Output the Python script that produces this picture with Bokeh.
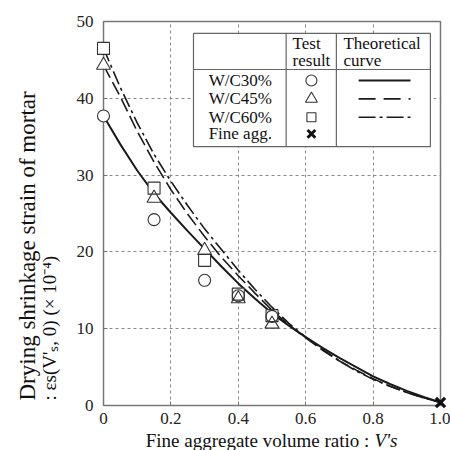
import math
from bokeh.plotting import figure
from bokeh.models import FixedTicker, Range1d
from bokeh.embed import file_html
from bokeh.resources import INLINE
from bokeh.core.properties import value

# ---------------- data ----------------
x_test = [0.0, 0.15, 0.30, 0.40, 0.50]
wc30_test = [37.7, 24.2, 16.3, 14.3, 11.6]
wc45_test = [44.3, 27.0, 20.2, 13.9, 10.6]
wc60_test = [46.5, 28.3, 18.9, 14.5, 11.7]
fine_x = [1.0]
fine_y = [0.4]

x_curve = [0.0, 0.05, 0.10, 0.15, 0.20, 0.25, 0.30, 0.35, 0.40, 0.45, 0.50,
           0.55, 0.60, 0.65, 0.70, 0.75, 0.80, 0.85, 0.90, 0.95, 1.0]
wc30_curve = [37.7, 34.0, 30.6, 27.6, 25.1, 22.7, 20.4, 18.1, 15.9, 13.9, 12.0,
              10.4, 8.9, 7.5, 6.2, 5.0, 3.8, 2.8, 1.9, 1.1, 0.4]
wc45_curve = [44.3, 40.2, 35.7, 31.7, 28.1, 24.9, 22.0, 19.3, 16.9, 14.6, 12.4,
              10.5, 8.8, 7.2, 5.8, 4.6, 3.5, 2.5, 1.7, 1.0, 0.4]
wc60_curve = [46.5, 41.4, 36.8, 32.7, 29.2, 26.0, 23.0, 20.3, 17.6, 15.1, 12.8,
              10.7, 8.9, 7.3, 5.8, 4.5, 3.4, 2.5, 1.7, 1.0, 0.4]

x_ticks = [0, 0.2, 0.4, 0.6, 0.8, 1.0]
x_tick_labels = ["0", "0.2", "0.4", "0.6", "0.8", "1.0"]
y_ticks = [0, 10, 20, 30, 40, 50]

series_labels = ["W/C30%", "W/C45%", "W/C60%", "Fine agg."]
header_test = ["Test", "result"]
header_theory = ["Theoretical", "curve"]

x_title = "Fine aggregate volume ratio :"
x_title_italic = "V's"
y_title_1 = "Drying shrinkage strain of mortar"
y_title_2 = ": \u03b5s(V'\u209b, 0) (\u00d7 10\u207b\u2074)"

FONT = "Liberation Serif"
INK = "#1a1a1a"
FRAME = "#777777"

p = figure(width=450, height=450, x_range=Range1d(0, 1), y_range=Range1d(0, 50),
           output_backend="svg", toolbar_location=None,
           min_border_left=103, min_border_right=10, min_border_top=21, min_border_bottom=45)

p.outline_line_color = FRAME
p.outline_line_width = 1.5
p.background_fill_color = "white"
p.border_fill_color = "white"

p.xaxis.ticker = FixedTicker(ticks=x_ticks)
p.yaxis.ticker = FixedTicker(ticks=y_ticks)
p.xaxis.major_label_overrides = {t: l for t, l in zip(x_ticks, x_tick_labels)}
for ax in (p.xaxis[0], p.yaxis[0]):
    ax.axis_line_color = None
    ax.major_tick_in = 4
    ax.major_tick_out = 0
    ax.major_tick_line_color = FRAME
    ax.minor_tick_line_color = None
    ax.major_label_text_font = FONT
    ax.major_label_text_font_size = "17px"
    ax.major_label_text_color = "#222222"
p.xaxis.major_label_standoff = 7
p.yaxis.major_label_standoff = 10

p.xgrid.ticker = FixedTicker(ticks=x_ticks)
p.ygrid.ticker = FixedTicker(ticks=y_ticks)
for g in (p.xgrid[0], p.ygrid[0]):
    g.grid_line_color = "#8a8a8a"
    g.grid_line_dash = "3 3"
    g.grid_line_width = 1

# ---------------- curves ----------------
p.line(x_curve, wc30_curve, line_color=INK, line_width=2)
p.line(x_curve, wc45_curve, line_color=INK, line_width=1.6, line_dash="14 5")
p.line(x_curve, wc60_curve, line_color=INK, line_width=1.6, line_dash="14 4 3 4")

# ---------------- test points ----------------
sets = [("square", wc60_test, 12), ("triangle", wc45_test, 14), ("circle", wc30_test, 12)]
for mk, ys, sz in sets:
    p.scatter(x_test, ys, marker=mk, size=sz, fill_color="white", line_color=None, level="overlay")
for mk, ys, sz in sets:
    p.scatter(x_test, ys, marker=mk, size=sz, fill_alpha=0, line_color="#333333",
              line_width=1.1, level="overlay")
p.scatter(fine_x, fine_y, marker="x", size=13, line_color="#111111", line_width=3.2, level="overlay")

# ---------------- table legend ----------------
box_l, box_r, box_b, box_t = 0.267, 0.970, 33.7, 48.45
hdr_y = 43.75
col1, col2 = 0.542, 0.691
row_y = [42.32, 39.93, 37.54, 35.37]
p.quad(left=[box_l], right=[box_r], bottom=[box_b], top=[box_t],
       fill_color="white", line_color="#666666", line_width=1.2)
p.segment(x0=[box_l, col1, col2], y0=[hdr_y, box_t, box_t],
          x1=[box_r, col1, col2], y1=[hdr_y, box_b, box_b],
          line_color="#666666", line_width=1.2)
p.text(x=[0.561, 0.561, 0.712, 0.712], y=[47.1, 44.9, 47.1, 44.9],
       text=[header_test[0], header_test[1], header_theory[0], header_theory[1]],
       text_font=value(FONT), text_font_size=value("17px"), text_baseline="middle",
       text_align="left", text_color="#111111")
p.text(x=[0.312] * 4, y=row_y, text=series_labels,
       text_font=value(FONT), text_font_size=value("17px"), text_baseline="middle",
       text_align="left", text_color="#111111")
leg_x = 0.617
p.scatter([leg_x], [row_y[0]], marker="circle", size=11, fill_color="white", line_color="#333333", line_width=1.1)
p.scatter([leg_x], [row_y[1]], marker="triangle", size=12, fill_color="white", line_color="#333333", line_width=1.1)
p.scatter([leg_x], [row_y[2]], marker="square", size=9, fill_color="white", line_color="#333333", line_width=1.1)
p.scatter([leg_x], [row_y[3]], marker="x", size=11, line_color="#111111", line_width=3)
lx0, lx1 = 0.757, 0.911
p.segment(x0=[lx0], y0=[row_y[0]], x1=[lx1], y1=[row_y[0]], line_color=INK, line_width=2)
p.segment(x0=[lx0], y0=[row_y[1]], x1=[lx1], y1=[row_y[1]], line_color=INK, line_width=1.6, line_dash="17 8")
p.segment(x0=[lx0], y0=[row_y[2]], x1=[lx1], y1=[row_y[2]], line_color=INK, line_width=1.6, line_dash="17 4 3 4")

# ---------------- axis titles (unclipped overlay text glyphs) ----------------
p.text(x=[0.789], y=[-4.5], text=[x_title], text_align="right", text_baseline="alphabetic",
       text_font=value(FONT), text_font_size=value("19px"), text_color="#111111", level="overlay")
p.text(x=[0.804], y=[-4.5], text=[x_title_italic], text_align="left", text_baseline="alphabetic",
       text_font=value(FONT), text_font_size=value("19px"), text_font_style="italic",
       text_color="#111111", level="overlay")
p.text(x=[-0.225], y=[0.65], text=[y_title_1], angle=math.pi / 2,
       text_align="left", text_baseline="middle", text_font=value(FONT),
       text_font_size=value("23px"), text_color="#111111", level="overlay")
p.text(x=[-0.160], y=[0.65], text=[y_title_2], angle=math.pi / 2,
       text_align="left", text_baseline="middle", text_font=value(FONT),
       text_font_size=value("19px"), text_color="#111111", level="overlay")

open("out.html", "w").write(file_html(p, INLINE))
